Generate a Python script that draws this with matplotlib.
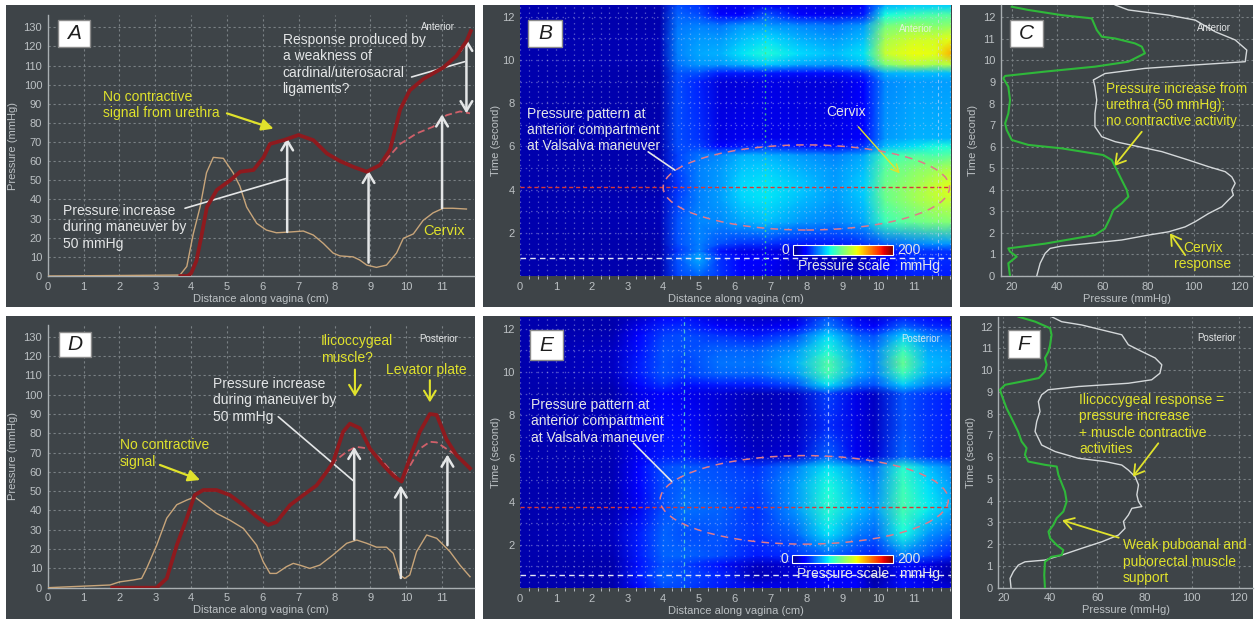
import numpy as np
import matplotlib
matplotlib.use("Agg")
import matplotlib.pyplot as plt
from matplotlib.patches import Rectangle, Ellipse
from matplotlib.colors import Normalize
from matplotlib.cm import ScalarMappable

W, H = 1256, 619

# ---------------- data ----------------
# panel A: anterior pressure profile along the vagina
A_RED_X = [3.7, 3.9, 4.0, 4.15, 4.3, 4.44, 4.72, 5.09, 5.37, 5.74, 6.02, 6.2, 6.58, 7.0, 7.41, 7.79,
           8.16, 8.53, 8.9, 9.27, 9.55, 9.83, 10.1, 10.48, 11.04, 11.4, 11.69, 11.8]
A_RED_P = [0, 0, 1.4, 8, 22, 36, 45, 50, 54.5, 55.4, 62, 69, 71, 73.7, 71, 64,
           60, 57, 54.5, 58, 66, 87, 97, 103, 109, 115, 123, 128]
A_DASH_X = [8.9, 9.36, 9.83, 10.29, 10.75, 11.12, 11.5, 11.78]
A_DASH_P = [54.5, 59, 69, 74.5, 78, 84, 86, 85]
A_TAN_X = [0, 3.69, 3.88, 4.06, 4.25, 4.43, 4.62, 4.9, 5.17, 5.36, 5.55, 5.83, 6.1, 6.38, 6.76, 7.13,
           7.41, 7.69, 7.96, 8.15, 8.52, 8.7, 8.9, 9.17, 9.45, 9.73, 9.92, 10.2, 10.47, 10.75, 11.03,
           11.3, 11.68]
A_TAN_P = [0, 0.5, 5, 22, 36, 54, 62, 61.5, 54, 47, 36, 27.5, 24, 22.6, 23, 23.5,
           21.4, 17, 12, 10.5, 10, 8.4, 5.7, 4.5, 5.7, 12, 19.7, 22, 29, 33, 35.4,
           35.4, 35]

# panel D: posterior pressure profile
D_RED_X = [1.8, 3.04, 3.32, 3.6, 3.88, 4.1, 4.34, 4.71, 5.08, 5.46, 5.83, 6.15, 6.38, 6.76, 7.13, 7.5,
           7.78, 7.96, 8.24, 8.43, 8.71, 8.99, 9.36, 9.64, 9.87, 10.1, 10.38, 10.66, 10.85, 11.12,
           11.4, 11.78]
D_RED_P = [0, 0, 4.8, 22, 36, 48, 50.6, 50.6, 48, 42.8, 36.8, 32.5, 34, 42.8, 48, 53,
           60, 65, 80.8, 85, 82.6, 72, 63.5, 58, 55, 67, 80.8, 90, 89.5, 77,
           68.7, 61.8]
D_DASH_X = [7.9, 8.34, 8.6, 8.99, 9.27, 9.6, 9.87, 10.1, 10.38, 10.66, 10.85, 11.12, 11.4, 11.78]
D_DASH_P = [64, 70.5, 73, 72, 67, 60, 55, 63, 72, 75.6, 75.3, 72, 68.7, 61.8]
D_TAN_X = [0, 1.74, 2.0, 2.39, 2.62, 2.76, 3.04, 3.32, 3.6, 3.88, 4.1, 4.34, 4.71, 5.08, 5.46, 5.83,
           6.01, 6.2, 6.38, 6.66, 6.85, 7.03, 7.31, 7.59, 7.96, 8.34, 8.62, 8.9, 9.17, 9.45, 9.64,
           9.82, 9.96, 10.1, 10.29, 10.57, 10.85, 11.22, 11.5, 11.78]
D_TAN_P = [0, 1.4, 3, 4, 4.8, 10, 22, 36, 43, 45.4, 47, 43.7, 38.5, 35, 30.7, 22,
           13.5, 7.4, 7.4, 10.9, 12.6, 11.7, 10, 11.7, 17, 23, 24.7, 23, 21, 21, 17.8,
           6.6, 4.8, 6.6, 18.7, 27.3, 25.6, 18.7, 11.7, 5.7]

# panel C: anterior pressure vs time
C_GREEN_P = [19.25, 18.5, 22.2, 19.25, 18.5, 34.6, 47.8, 56.6, 61, 63.2, 64.7, 68.4, 71.3, 70.6,
             68.4, 66.2, 64, 60.3, 42, 27.3, 20, 17.8, 17.1, 18.5, 19.25, 18.5, 16.3, 17.1, 34.6,
             56.6, 71.3, 78.6, 77.2, 74.2, 65.4, 59.6, 57.4, 55.2, 42, 27.3, 20]
C_GREEN_T = [0, 0.59, 0.9, 1.13, 1.28, 1.5, 1.74, 1.9, 2.2, 2.67, 3.06, 3.37, 3.68, 3.99,
             4.45, 4.92, 5.38, 5.61, 5.92, 6.08, 6.31, 6.77, 7.08, 7.54, 8.16, 8.78, 9.17, 9.28, 9.48,
             9.71, 9.94, 10.33, 10.64, 10.79, 11.02, 11.1, 11.41, 11.95, 12.1, 12.34, 12.49]
C_WHITE_P = [31, 32.5, 34.7, 36.9, 42, 53.8, 68.4, 80.2, 89, 96.3, 100.7, 106.6, 112.4, 115.3,
             117.5, 116.8, 118.3, 116.8, 113.9, 106.6, 97.7, 86, 75.8, 65.5, 59.6, 56.6, 56.6,
             57.4, 56.6, 55.9, 61, 78.6, 100.7, 122.7, 123.4, 118.3, 109.5, 100.7, 89, 71.3, 65.5]
C_WHITE_T = [0, 0.59, 1.05, 1.28, 1.39, 1.51, 1.67, 1.9, 2.05, 2.28, 2.52, 2.9, 3.21, 3.52,
             3.75, 3.99, 4.3, 4.6, 4.84, 5.07, 5.38, 5.77, 6.0, 6.23, 6.46, 6.93, 7.54,
             8.16, 8.78, 9.09, 9.39, 9.63, 9.79, 9.94, 10.48, 10.95, 11.33, 11.87, 12.1, 12.34, 12.57]

# panel F: posterior pressure vs time
F_GREEN_P = [37.7, 37.4, 37.7, 40.5, 44.8, 45.5, 42.7, 39.9, 39.2, 41.3, 42.7, 45.5, 46.9, 46.2,
             44.8, 43.4, 42.7, 37.7, 30.6, 29.2, 29.9, 27.8, 26.3, 23.5, 21.4, 19.3, 18.6, 20.8,
             27.9, 35.1, 37.7, 38.4, 37.7, 39.2, 39.9, 40.5, 39.9, 33.6, 26.5]
F_GREEN_T = [0, 0.58, 1.19, 1.42, 1.5, 1.73, 1.96, 2.27, 2.58, 2.89, 3.2, 3.5, 3.96, 4.42,
             4.8, 5.19, 5.57, 5.65, 5.8, 6.11, 6.42, 6.72, 7.18, 7.8, 8.25, 8.87, 9.1, 9.33,
             9.48, 9.64, 9.94, 10.25, 10.56, 10.86, 11.17, 11.63, 11.93, 12.23, 12.46]
F_WHITE_P = [23.3, 22.9, 24.3, 26.4, 29.2, 37.7, 44.8, 53.3, 61.8, 68.9, 71.7, 71, 73.1, 74.6,
             78.8, 77.4, 76.7, 77.4, 76, 73.1, 70.3, 63.2, 51.9, 42, 36.3, 33.5, 34.2, 35.6,
             34.9, 36.3, 39.1, 51.9, 73.1, 83, 86.5, 87.3, 84.5, 78.8, 73.1, 70.3, 64.6, 53.3,
             44.8, 40.5]
F_WHITE_T = [0, 0.43, 0.74, 1.04, 1.19, 1.27, 1.5, 1.81, 2.11, 2.42, 2.73, 3.04, 3.34, 3.65,
             3.73, 3.96, 4.27, 4.73, 5.1, 5.41, 5.64, 5.8, 5.95, 6.26, 6.56, 7.18, 7.64, 8.1,
             8.56, 8.87, 9.1, 9.25, 9.4, 9.56, 9.86, 10.25, 10.56, 10.86, 11.17, 11.63, 11.78, 12.08,
             12.23, 12.46]

# panel B: anterior pressure map (rows = time, cols = distance), mmHg
B_DIST = [0, 3.9, 4.4, 5.0, 5.6, 6.2, 6.9, 7.8, 8.8, 9.6, 10.2, 11.0, 11.6, 12.05]
B_TIME = [0, 0.85, 1.15, 1.5, 2.5, 3.5, 4.13, 5.0, 5.6, 6.0, 6.4, 9.0, 9.4, 9.8, 10.3, 11.0,
          11.6, 12.1, 12.55]
B_PRESS = [
    [8, 8, 38, 45, 35, 25, 19, 15, 12, 15, 28, 32, 31, 30],
    [8, 8, 42, 60, 35, 24, 22, 14, 8, 10, 22, 35, 33, 33],
    [8, 8, 35, 50, 28, 18, 19, 12, 8, 10, 22, 35, 35, 35],
    [8, 8, 40, 50, 40, 35, 35, 30, 30, 35, 45, 50, 54, 55],
    [8, 10, 42, 52, 52, 58, 63, 55, 50, 58, 85, 95, 100, 102],
    [8, 10, 38, 50, 56, 66, 70, 62, 55, 64, 95, 108, 115, 118],
    [8, 8, 35, 50, 56, 68, 71, 65, 56, 66, 97, 109, 118, 125],
    [8, 8, 38, 50, 55, 64, 66, 60, 54, 62, 92, 102, 107, 112],
    [8, 8, 38, 48, 52, 60, 60, 55, 50, 58, 85, 90, 88, 92],
    [8, 8, 40, 38, 25, 30, 35, 28, 25, 35, 62, 70, 76, 78],
    [8, 8, 40, 35, 18, 20, 19, 18, 18, 25, 55, 60, 60, 60],
    [8, 8, 40, 32, 16, 16, 18, 16, 16, 22, 52, 56, 56, 56],
    [8, 8, 42, 40, 30, 30, 30, 28, 28, 35, 60, 62, 62, 62],
    [8, 10, 48, 55, 55, 60, 65, 58, 55, 62, 100, 115, 110, 115],
    [8, 10, 50, 58, 60, 70, 78, 68, 62, 70, 118, 128, 125, 145],
    [8, 10, 50, 55, 55, 62, 68, 60, 55, 62, 110, 120, 120, 125],
    [8, 8, 48, 50, 48, 55, 56, 52, 48, 55, 98, 105, 102, 105],
    [8, 8, 45, 40, 25, 25, 42, 25, 20, 30, 75, 85, 89, 90],
    [8, 8, 40, 35, 18, 18, 20, 18, 16, 25, 60, 65, 65, 65],
]

# panel E: posterior pressure map
E_DIST = [0, 2.6, 3.3, 4.0, 4.6, 5.6, 6.6, 7.7, 8.6, 9.4, 9.9, 10.7, 11.4, 12.05]
E_TIME = [0, 0.6, 1.1, 1.5, 2.5, 3.7, 4.8, 5.6, 6.1, 7.5, 9.0, 9.4, 9.9, 10.4, 11.0, 11.7,
          12.1, 12.57]
E_PRESS = [
    [8, 8, 25, 40, 38, 30, 20, 18, 25, 22, 10, 28, 20, 15],
    [8, 8, 30, 45, 40, 32, 9, 15, 25, 21, 5, 27, 17, 6],
    [8, 8, 28, 42, 38, 28, 12, 15, 28, 22, 8, 28, 18, 10],
    [8, 10, 30, 45, 45, 40, 30, 35, 45, 35, 30, 50, 40, 30],
    [8, 12, 30, 45, 40, 42, 35, 45, 70, 50, 45, 75, 55, 45],
    [8, 10, 20, 40, 47, 45, 35, 55, 80, 64, 55, 88, 72, 60],
    [8, 10, 22, 40, 45, 42, 38, 55, 76, 60, 52, 85, 68, 55],
    [8, 10, 22, 40, 43, 40, 35, 50, 70, 55, 48, 80, 62, 50],
    [8, 10, 20, 30, 31, 18, 12, 15, 45, 20, 15, 45, 35, 30],
    [8, 10, 20, 28, 27, 15, 10, 12, 34, 18, 12, 42, 35, 30],
    [8, 8, 18, 22, 20, 15, 10, 12, 38, 18, 12, 42, 35, 30],
    [8, 10, 25, 35, 28, 30, 30, 40, 70, 45, 40, 65, 50, 45],
    [8, 12, 30, 42, 38, 45, 45, 55, 86, 58, 50, 85, 60, 55],
    [8, 12, 30, 42, 38, 48, 48, 60, 90, 60, 52, 95, 62, 58],
    [8, 12, 28, 42, 40, 45, 45, 55, 78, 55, 50, 85, 58, 55],
    [8, 10, 22, 38, 40, 35, 30, 40, 68, 45, 40, 65, 50, 45],
    [8, 8, 18, 32, 34, 22, 18, 22, 50, 30, 25, 45, 35, 30],
    [8, 8, 12, 22, 27, 15, 12, 15, 40, 20, 15, 30, 25, 20],
]

# ---------------- style ----------------
PANEL = "#3e4448"
GRID = "#7a8185"
TICK = "#bcc1c4"
WHITE = "#e4e6e7"
YELLOW = "#e0e22c"
RED = "#8e1a1e"
RED_DASH = "#d0606a"
TAN = "#c8a57a"
GREEN = "#2fb83a"
TRACE = "#d4d8da"
FONT = "Liberation Sans"
LS = 1.22   # line spacing of the annotation blocks

plt.rcParams.update({"font.family": FONT, "axes.linewidth": 1.0})


def px_axes(fig, l, t, r, b):
    return fig.add_axes([l / W, 1 - b / H, (r - l) / W, (b - t) / H])


def panel_bg(fig, l, t, r, b):
    fig.add_artist(Rectangle((l / W, 1 - b / H), (r - l) / W, (b - t) / H,
                             transform=fig.transFigure, fc=PANEL, ec="none", zorder=-5))


def letter(fig, l, t, r, b, s):
    fig.add_artist(Rectangle((l / W, 1 - b / H), (r - l) / W, (b - t) / H,
                             transform=fig.transFigure, fc="white", ec="#8a8a8a", lw=1.0, zorder=10))
    fig.text((l + r) / 2 / W, 1 - (t + b) / 2 / H, s, fontsize=15, style="italic",
             color="#1e1e1e", ha="center", va="center", zorder=11)


def arrow(ax, tail, tip, color=WHITE, lw=1.8, style="->, head_length=0.5, head_width=0.3", ms=14):
    ax.annotate("", xy=tip, xytext=tail,
                arrowprops=dict(arrowstyle=style, color=color, lw=lw, shrinkA=0, shrinkB=0,
                                mutation_scale=ms))


def leader(ax, a, b, color=WHITE, lw=1.2):
    ax.annotate("", xy=b, xytext=a,
                arrowprops=dict(arrowstyle="-", color=color, lw=lw, shrinkA=0, shrinkB=0))


def style_common(ax):
    ax.tick_params(which="both", colors=TICK, labelsize=8, pad=4)
    ax.tick_params(which="major", length=0)


def style_profile(ax, ymax):
    ax.set_facecolor(PANEL)
    ax.set_xlim(0, 11.88)
    ax.set_ylim(0, ymax)
    ax.set_xticks(range(0, 12))
    ax.set_yticks(range(0, 131, 10))
    ax.grid(True, color=GRID, ls=(0, (2, 2.5)), lw=0.8)
    for s in ("top", "right"):
        ax.spines[s].set_visible(False)
    for s in ("left", "bottom"):
        ax.spines[s].set_color("#a9afb2")
    style_common(ax)
    ax.set_xlabel("Distance along vagina (cm)", color=TICK, fontsize=8, labelpad=1.5)
    ax.set_ylabel("Pressure (mmHg)", color=TICK, fontsize=8, labelpad=4)


def style_trace(ax, xmin, ymax):
    ax.set_facecolor(PANEL)
    ax.set_xlim(xmin, 126)
    ax.set_ylim(0, ymax)
    ax.set_xticks(range(20, 121, 20))
    ax.set_yticks(range(0, 13))
    ax.grid(True, color=GRID, ls=(0, (2, 2.5)), lw=0.8)
    for s in ("top", "right"):
        ax.spines[s].set_visible(False)
    for s in ("left", "bottom"):
        ax.spines[s].set_color("#a9afb2")
    style_common(ax)
    ax.set_xlabel("Pressure (mmHg)", color=TICK, fontsize=8, labelpad=1.5)
    ax.set_ylabel("Time (second)", color=TICK, fontsize=8, labelpad=3)


def style_map(ax, ymax):
    ax.set_facecolor(PANEL)
    ax.set_xlim(0, 12.04)
    ax.set_ylim(0, ymax)
    ax.set_xticks(range(0, 12))
    ax.set_xticks(np.arange(0, 12.04, 0.25), minor=True)
    ax.set_yticks(range(2, 13, 2))
    ax.set_yticks(range(1, 13), minor=True)
    ax.set_axisbelow(False)
    ax.grid(True, which="both", color="#c8ccf0", alpha=0.4, ls=(0, (1.2, 3)), lw=0.9)
    for s in ax.spines.values():
        s.set_visible(False)
    style_common(ax)
    ax.tick_params(which="minor", length=2, colors="#c8ccd0", width=0.6)
    ax.tick_params(axis="y", which="minor", length=0)
    ax.set_xlabel("Distance along vagina (cm)", color=TICK, fontsize=8, labelpad=1.5)
    ax.set_ylabel("Time (second)", color=TICK, fontsize=8, labelpad=1)


def heatmap(ax, dist, time, press):
    X, Y = np.meshgrid(dist, time)
    ax.pcolormesh(X, Y, np.array(press, dtype=float), cmap="jet", vmin=0, vmax=200,
                  shading="gouraud", zorder=1, rasterized=True)


def scale_bar(fig, l, t, r, b):
    cax = px_axes(fig, l, t, r, b)
    cb = fig.colorbar(ScalarMappable(norm=Normalize(0, 200), cmap="jet"), cax=cax,
                      orientation="horizontal", ticks=[])
    cb.outline.set_edgecolor("white")
    cb.outline.set_linewidth(0.8)
    yc = 1 - (t + b) / 2 / H
    fig.text((l - 4) / W, yc, "0", color=WHITE, fontsize=10, ha="right", va="center")
    fig.text((r + 4) / W, yc, "200", color=WHITE, fontsize=10, ha="left", va="center")
    fig.text((l + 5) / W, 1 - (b + 11) / H, "Pressure scale", color=WHITE, fontsize=10,
             ha="left", va="center")
    fig.text((r + 6) / W, 1 - (b + 11) / H, "mmHg", color=WHITE, fontsize=10,
             ha="left", va="center")


fig = plt.figure(figsize=(W / 100, H / 100), dpi=100, facecolor="white")

for box in [(6, 5, 475, 307), (483, 5, 952, 307), (960, 5, 1253, 307),
            (6, 316, 475, 619), (483, 316, 952, 619), (960, 316, 1253, 619)]:
    panel_bg(fig, *box)

# ---------------- A ----------------
axA = px_axes(fig, 47.7, 15, 473.6, 276)
style_profile(axA, 136.4)
axA.plot(A_TAN_X, A_TAN_P, color=TAN, lw=1.0, zorder=3)
axA.plot(A_DASH_X, A_DASH_P, color=RED_DASH, lw=1.3, ls=(0, (4, 2)), zorder=3)
axA.plot(A_RED_X, A_RED_P, color=RED, lw=2.7, zorder=4)
arrow(axA, (6.68, 23), (6.68, 72))
arrow(axA, (8.95, 7), (8.95, 55))
arrow(axA, (11.0, 35.5), (11.0, 84.5))
arrow(axA, (11.68, 85), (11.68, 124), style="<->, head_length=0.5, head_width=0.3")
axA.text(1.55, 89.5, "No contractive\nsignal from urethra", color=YELLOW, fontsize=10,
         ha="left", va="center", linespacing=LS)
arrow(axA, (5.0, 85), (6.3, 77), color=YELLOW, lw=1.6,
      style="-|>, head_length=0.5, head_width=0.25")
axA.text(6.55, 110.5, "Response produced by\na weakness of\ncardinal/uterosacral\nligaments?",
         color=WHITE, fontsize=10, ha="left", va="center", linespacing=LS)
leader(axA, (10.15, 104), (11.63, 112))
axA.text(0.44, 25.5, "Pressure increase\nduring maneuver by\n50 mmHg", color=WHITE, fontsize=10,
         ha="left", va="center", linespacing=LS)
leader(axA, (3.83, 35.4), (6.66, 51))
axA.text(11.05, 23.7, "Cervix", color=YELLOW, fontsize=10.5, ha="center", va="center")
axA.text(10.9, 130, "Anterior", color=WHITE, fontsize=7, ha="center", va="center")
letter(fig, 58, 20, 90, 47, "A")

# ---------------- D ----------------
axD = px_axes(fig, 47.7, 325, 473.6, 587.7)
style_profile(axD, 136.1)
axD.plot(D_TAN_X, D_TAN_P, color=TAN, lw=1.0, zorder=3)
axD.plot(D_DASH_X, D_DASH_P, color=RED_DASH, lw=1.3, ls=(0, (4, 2)), zorder=3)
axD.plot(D_RED_X, D_RED_P, color=RED, lw=2.7, zorder=4)
arrow(axD, (8.55, 25), (8.55, 73))
arrow(axD, (9.85, 5), (9.85, 53))
arrow(axD, (11.15, 22), (11.15, 69))
axD.text(7.62, 123.5, "Ilicoccygeal\nmuscle?", color=YELLOW, fontsize=10, ha="left",
         va="center", linespacing=LS)
arrow(axD, (8.57, 113), (8.57, 99), color=YELLOW, lw=1.5)
axD.text(9.45, 112.8, "Levator plate", color=YELLOW, fontsize=10, ha="left", va="center")
arrow(axD, (10.66, 107.5), (10.66, 96), color=YELLOW, lw=1.5)
axD.text(4.6, 97, "Pressure increase\nduring maneuver by\n50 mmHg", color=WHITE, fontsize=10,
         ha="left", va="center", linespacing=LS)
leader(axD, (6.43, 88.6), (8.55, 55))
axD.text(2.02, 69.6, "No contractive\nsignal", color=YELLOW, fontsize=10, ha="left",
         va="center", linespacing=LS)
arrow(axD, (3.13, 63.6), (4.25, 55.8), color=YELLOW, lw=1.6,
      style="-|>, head_length=0.5, head_width=0.25")
axD.text(10.9, 129, "Posterior", color=WHITE, fontsize=7, ha="center", va="center")
letter(fig, 59, 332, 91, 357, "D")

# ---------------- B ----------------
axB = px_axes(fig, 520, 5, 951, 276)
style_map(axB, 12.55)
heatmap(axB, B_DIST, B_TIME, B_PRESS)
axB.axhline(4.13, color="#d83838", ls=(0, (3, 2)), lw=1.0, zorder=3)
axB.axhline(0.85, color="#e4e6f4", ls=(0, (4, 3)), lw=1.0, zorder=3)
axB.axvline(6.84, color="#54e07a", ls=(0, (1.5, 2.5)), lw=1.0, alpha=0.8, zorder=3)
axB.axvline(11.68, color="#d8dcff", ls=(0, (3, 3)), lw=0.8, alpha=0.6, zorder=3)
axB.add_patch(Ellipse((8.0, 4.1), 8.0, 3.94, fill=False, ec="#e07a8a", lw=1.1,
                      ls=(0, (5, 4)), zorder=4))
axB.text(0.19, 6.76, "Pressure pattern at\nanterior compartment\nat Valsalva maneuver",
         color=WHITE, fontsize=10, ha="left", va="center", linespacing=LS, zorder=5)
leader(axB, (3.58, 5.75), (4.33, 4.9))
axB.text(9.1, 7.6, "Cervix", color=WHITE, fontsize=10, ha="center", va="center", zorder=5)
arrow(axB, (9.45, 6.91), (10.61, 4.75), color=YELLOW, lw=1.0,
      style="->, head_length=0.4, head_width=0.2")
axB.text(11.05, 11.43, "Anterior", color="#f0f0f0", fontsize=7, ha="center", va="center",
         alpha=0.85, zorder=5)
scale_bar(fig, 793, 245, 893, 255)
letter(fig, 528, 20, 562, 47, "B")

# ---------------- E ----------------
axE = px_axes(fig, 520, 316.7, 951, 588)
style_map(axE, 12.56)
heatmap(axE, E_DIST, E_TIME, E_PRESS)
axE.axhline(3.73, color="#d83838", ls=(0, (3, 2)), lw=1.0, zorder=3)
axE.axhline(0.58, color="#e4e6f4", ls=(0, (4, 3)), lw=1.0, zorder=3)
axE.axvline(4.59, color="#60e0c8", ls=(0, (3, 3)), lw=0.9, alpha=0.8, zorder=3)
axE.axvline(8.6, color="#e0e4ff", ls=(0, (3, 3)), lw=0.9, alpha=0.7, zorder=3)
axE.add_patch(Ellipse((7.94, 4.08), 8.05, 4.1, fill=False, ec="#e07a8a", lw=1.1,
                      ls=(0, (5, 4)), zorder=4))
axE.text(0.31, 7.71, "Pressure pattern at\nanterior compartment\nat Valsalva maneuver",
         color=WHITE, fontsize=10, ha="left", va="center", linespacing=LS, zorder=5)
leader(axE, (3.17, 6.71), (4.24, 4.93))
axE.text(11.2, 11.53, "Posterior", color="#f0f0f0", fontsize=7, ha="center", va="center",
         alpha=0.85, zorder=5)
scale_bar(fig, 792, 555, 893, 563)
letter(fig, 530, 330, 563, 360, "E")

# ---------------- C ----------------
axC = px_axes(fig, 1000.7, 5, 1252.7, 276)
style_trace(axC, 15.15, 12.57)
axC.plot(C_WHITE_P, C_WHITE_T, color=TRACE, lw=1.0, zorder=3)
axC.plot(C_GREEN_P, C_GREEN_T, color=GREEN, lw=1.5, zorder=4)
axC.text(61.5, 7.93, "Pressure increase from\nurethra (50 mmHg);\nno contractive activity",
         color=YELLOW, fontsize=9.8, ha="left", va="center", linespacing=LS)
arrow(axC, (77.2, 6.69), (65.1, 5.1), color=YELLOW, lw=1.3,
      style="->, head_length=0.5, head_width=0.3")
axC.text(104, 0.94, "Cervix\nresponse", color=YELLOW, fontsize=10, ha="center",
         va="center", linespacing=LS)
arrow(axC, (96.3, 0.97), (89.6, 1.98), color=YELLOW, lw=1.3,
      style="->, head_length=0.5, head_width=0.3")
axC.text(108.8, 11.5, "Anterior", color=WHITE, fontsize=7, ha="center", va="center")
letter(fig, 1010, 20, 1043, 47, "C")

# ---------------- F ----------------
axF = px_axes(fig, 998.3, 316.7, 1253, 587.7)
style_trace(axF, 17.9, 12.46)
axF.plot(F_WHITE_P, F_WHITE_T, color=TRACE, lw=1.0, zorder=3)
axF.plot(F_GREEN_P, F_GREEN_T, color=GREEN, lw=1.5, zorder=4)
axF.text(52.3, 7.5, "Ilicoccygeal response =\npressure increase\n+ muscle contractive\nactivities",
         color=YELLOW, fontsize=10, ha="left", va="center", linespacing=LS)
arrow(axF, (85.8, 6.64), (75, 5.1), color=YELLOW, lw=1.3,
      style="->, head_length=0.5, head_width=0.3")
axF.text(70.8, 1.2, "Weak puboanal and\npuborectal muscle\nsupport", color=YELLOW, fontsize=10,
         ha="left", va="center", linespacing=LS)
arrow(axF, (69, 2.3), (45, 3.1), color=YELLOW, lw=1.3,
      style="->, head_length=0.5, head_width=0.3")
axF.text(110.7, 11.47, "Posterior", color=WHITE, fontsize=7, ha="center", va="center")
letter(fig, 1008, 330, 1040, 358, "F")

fig.savefig("out.png", dpi=100, facecolor="white")
